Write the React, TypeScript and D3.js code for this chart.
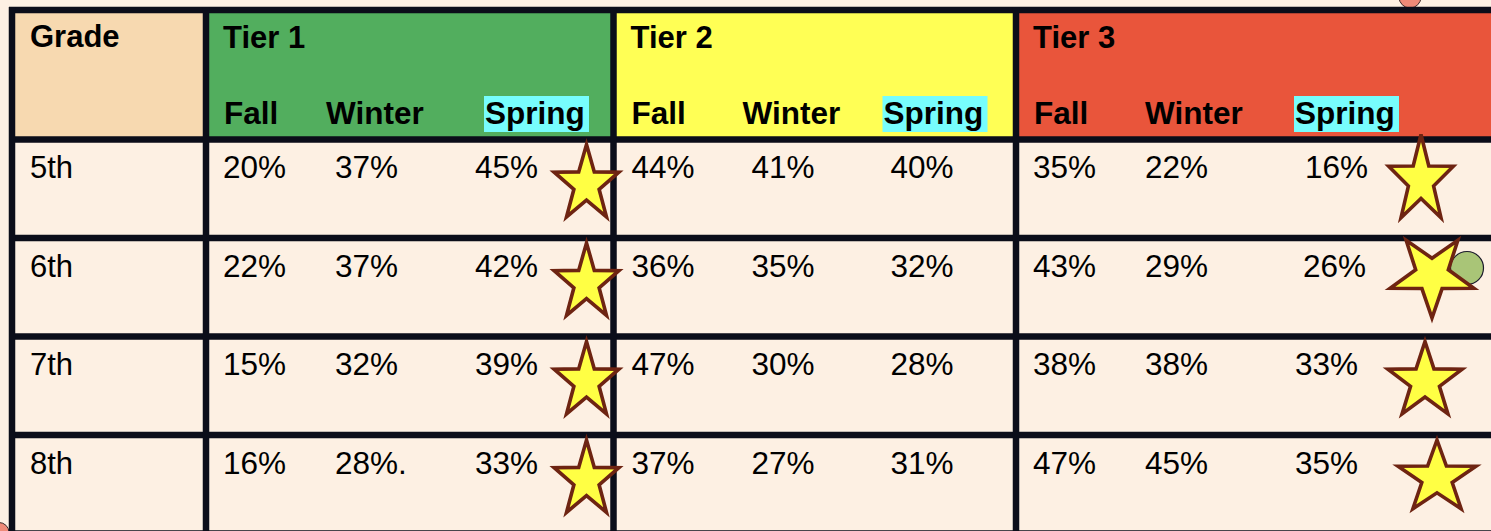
import React from "react";
import * as d3 from "d3";

// table content
const grades = ["5th", "6th", "7th", "8th"];
const tiers = ["Tier 1", "Tier 2", "Tier 3"];
const seasons = ["Fall", "Winter", "Spring"];
const tier1 = [
  ["20%", "37%", "45%"],
  ["22%", "37%", "42%"],
  ["15%", "32%", "39%"],
  ["16%", "28%.", "33%"],
];
const tier2 = [
  ["44%", "41%", "40%"],
  ["36%", "35%", "32%"],
  ["47%", "30%", "28%"],
  ["37%", "27%", "31%"],
];
const tier3 = [
  ["35%", "22%", "16%"],
  ["43%", "29%", "26%"],
  ["38%", "38%", "33%"],
  ["47%", "45%", "35%"],
];
const tierValues = [tier1, tier2, tier3];
const starTiers = ["Tier 1", "Tier 3"];

// look
const W = 1491;
const H = 531;
const BG = "#fdf0e3";
const LINE = "#0b0d19";
const tierFill = ["#52ae5e", "#ffff55", "#e9553b"];
const gradeFill = "#f7d9b0";
const springFill = "#77fdfd";
const FONT = "'Liberation Sans', Arial, Helvetica, sans-serif";

// x offsets inside each tier block (header labels / values)
const headOffset = [
  [18, 120, 279],
  [18, 129, 270],
  [18, 129, 279],
];
const valOffset = [
  [17, 129, 269],
  [18, 138, 277],
  [17, 129, 284],
];
const springNudge = [5, 3, -5, -5];

// per-row star tweaks in Tier 3 (they were hand placed)
const tier3Stars = [
  { dx: 405, dy: 41, rx: 34, ry: 46, rot: 0 },
  { dx: 416, dy: 37, rx: 44, ry: 43, rot: 180 },
  { dx: 409, dy: 45, rx: 39, ry: 40, rot: 0 },
  { dx: 421, dy: 43, rx: 41, ry: 38, rot: 0 },
];

// star outline in pixel space (no scale transform, so the stroke stays even)
const starD = (rx: number, ry: number, rot: number) => {
  const line = d3.line().curve(d3.curveLinearClosed);
  const pts: [number, number][] = d3.range(10).map((i) => {
    const a = (i * Math.PI) / 5 + (rot * Math.PI) / 180;
    const k = i % 2 === 0 ? 1 : 0.39;
    return [Math.sin(a) * rx * k, -Math.cos(a) * ry * k];
  });
  return line(pts) as string;
};

const Star = ({ cx, cy, rx, ry, rot }: any) => (
  <path
    d={starD(rx, ry, rot)}
    transform={`translate(${cx},${cy})`}
    fill="#ffff44"
    stroke="#6e2412"
    strokeWidth={3.6}
    strokeLinejoin="miter"
    strokeMiterlimit={4}
  />
);

export default function App() {
  const rowY = d3.scaleLinear().domain([0, grades.length]).range([139.5, 533.5]);
  const tierX = d3
    .scaleOrdinal<string, number>()
    .domain([...tiers, "end"])
    .range([206, 613.5, 1016, W + 10]);
  const tableLeft = 12;
  const tableTop = 10;

  const starList = grades.flatMap((g, i) =>
    starTiers.map((t) => {
      if (t === "Tier 1") {
        return {
          key: g + t,
          cx: tierX("Tier 2") - 27,
          cy: rowY(i) + 45,
          rx: 34,
          ry: 40,
          rot: 0,
        };
      }
      const s = tier3Stars[i];
      return {
        key: g + t,
        cx: tierX(t) + s.dx,
        cy: rowY(i) + s.dy,
        rx: s.rx,
        ry: s.ry,
        rot: s.rot,
      };
    })
  );
  const s6 = starList.find((s) => s.key === "6thTier 3")!;

  return (
    <div style={{ position: "fixed", left: 0, top: 0 }}>
      <svg width={W} height={H} style={{ display: "block" }} fontFamily={FONT}>
        <rect width={W} height={H} fill={BG} />

        {/* header fills */}
        <rect
          x={tableLeft}
          y={tableTop}
          width={tierX("Tier 1") - tableLeft}
          height={rowY(0) - tableTop}
          fill={gradeFill}
        />
        {tiers.map((t, ti) => (
          <rect
            key={t}
            x={tierX(t)}
            y={tableTop}
            width={(ti < 2 ? tierX(tiers[ti + 1]) : tierX("end")) - tierX(t)}
            height={rowY(0) - tableTop}
            fill={tierFill[ti]}
          />
        ))}

        {/* little decorations behind the frame */}
        <circle cx={1410} cy={tableTop - 13} r={11} fill="#ef8a78" stroke="#3a2a2a" strokeWidth={1} />
        <circle cx={tableLeft - 13} cy={rowY(4) - 1} r={10} fill="#ef8a78" stroke="#3a2a2a" strokeWidth={1} />

        {/* header text */}
        <text x={30} y={47} fontSize={31} fontWeight="bold" fill="#000">
          Grade
        </text>
        {tiers.map((t, ti) => (
          <g key={t}>
            <text x={tierX(t) + 17} y={48} fontSize={31} fontWeight="bold" fill="#000">
              {t}
            </text>
            {seasons.map((s, si) => {
              const x = tierX(t) + headOffset[ti][si];
              return (
                <g key={s}>
                  {s === "Spring" && (
                    <rect x={x - 1} y={96} width={105} height={36} fill={springFill} />
                  )}
                  <text x={x} y={124} fontSize={31.5} fontWeight="bold" fill="#000">
                    {s}
                  </text>
                </g>
              );
            })}
          </g>
        ))}

        {/* body */}
        {grades.map((g, i) => (
          <g key={g}>
            <text x={30} y={rowY(i) + 38.5} fontSize={31} fill="#000">
              {g}
            </text>
            {tiers.map((t, ti) =>
              tierValues[ti][i].map((v, si) => (
                <text
                  key={t + si}
                  x={
                    tierX(t) +
                    valOffset[ti][si] +
                    (ti === 2 && si === 2 ? springNudge[i] : 0)
                  }
                  y={rowY(i) + 38.5}
                  fontSize={31.5}
                  fill="#000"
                >
                  {v}
                </text>
              ))
            )}
          </g>
        ))}

        {/* grid */}
        <g stroke={LINE} strokeWidth={6.5}>
          <line x1={tableLeft - 3} x2={W} y1={tableTop} y2={tableTop} />
          {d3.range(grades.length + 1).map((i) => (
            <line key={i} x1={tableLeft - 3} x2={W} y1={rowY(i)} y2={rowY(i)} />
          ))}
          <line x1={tableLeft} x2={tableLeft} y1={tableTop - 3} y2={H + 5} />
          {tiers.map((t) => (
            <line key={t} x1={tierX(t)} x2={tierX(t)} y1={tableTop - 3} y2={H + 5} />
          ))}
        </g>

        {/* green dot under the 6th grade star */}
        <circle
          cx={s6.cx + 35}
          cy={s6.cy - 7}
          r={16.5}
          fill="#a9c577"
          stroke="#1b1b2b"
          strokeWidth={1.2}
        />
        {starList.map((s) => (
          <Star key={s.key} {...s} />
        ))}
      </svg>
    </div>
  );
}
